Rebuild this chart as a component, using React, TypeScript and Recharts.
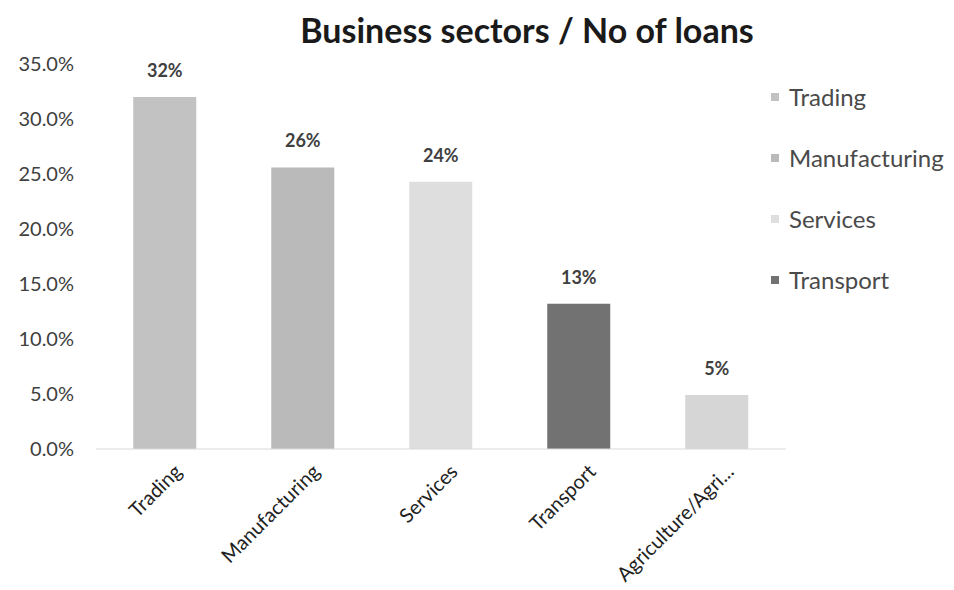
import React from 'react'
import { BarChart, Bar, Cell, XAxis, YAxis, LabelList } from 'recharts'

const sectors = ['Trading', 'Manufacturing', 'Services', 'Transport', 'Agriculture/Agri...']
const shares = [0.32, 0.256, 0.243, 0.132, 0.049]
const barColors = ['#c2c2c2', '#bababa', '#dedede', '#727272', '#d6d6d6']
const legendItems = ['Trading', 'Manufacturing', 'Services', 'Transport']
const yTicks = [0, 0.05, 0.1, 0.15, 0.2, 0.25, 0.3, 0.35]

const data = sectors.map((name, i) => ({ name, share: shares[i] }))

const FONT = 'Lato, "Open Sans", sans-serif'

function XTick(props: any) {
  const { x, y, payload } = props
  return (
    <g transform={`translate(${x},${y})`}>
      <text
        x={18}
        y={16}
        transform="rotate(-45, 18, 16)"
        textAnchor="end"
        fontSize={20}
        fill="#222"
        fontFamily={FONT}
      >
        {payload.value}
      </text>
    </g>
  )
}

function SideLegend() {
  return (
    <div style={{ position: 'absolute', left: 771, top: 66, fontFamily: FONT }}>
      {legendItems.map((name, i) => (
        <div key={name} style={{ display: 'flex', alignItems: 'center', height: 61, fontSize: 24, color: '#4a4a4a' }}>
          <span style={{ width: 8, height: 8, background: barColors[i], marginRight: 10, display: 'inline-block' }} />
          {name}
        </div>
      ))}
    </div>
  )
}

export default function App() {
  return (
    <div style={{ position: 'absolute', left: 0, top: 0, width: 954, height: 590, background: '#fff' }}>
      <BarChart
        width={954}
        height={590}
        data={data}
        margin={{ top: 64, right: 168, bottom: 0, left: 0 }}
        barCategoryGap="27%"
      >
        <XAxis
          dataKey="name"
          interval={0}
          tick={<XTick />}
          tickLine={false}
          axisLine={{ stroke: '#d9d9d9' }}
          height={141}
        />
        <YAxis
          domain={[0, 0.35]}
          ticks={yTicks}
          width={96}
          axisLine={false}
          tickLine={false}
          tickMargin={16}
          tickFormatter={(v: number) => `${(v * 100).toFixed(1)}%`}
          tick={{ fontSize: 20, fill: '#404040', fontFamily: FONT }}
        />
        <Bar dataKey="share" isAnimationActive={false}>
          {data.map((d, i) => (
            <Cell key={d.name} fill={barColors[i]} />
          ))}
          <LabelList
            dataKey="share"
            position="top"
            offset={20}
            formatter={(v: any) => `${Math.round(Number(v) * 100)}%`}
            style={{ fontSize: 18, fontWeight: 700, fill: '#404040', fontFamily: FONT }}
          />
        </Bar>
      </BarChart>
      <div
        style={{
          position: 'absolute', left: 0, top: 9, width: 1054, textAlign: 'center',
          fontFamily: FONT, fontWeight: 700, fontSize: 34, color: '#1a1a1a'
        }}
      >
        Business sectors / No of loans
      </div>
      <SideLegend />
    </div>
  )
}
